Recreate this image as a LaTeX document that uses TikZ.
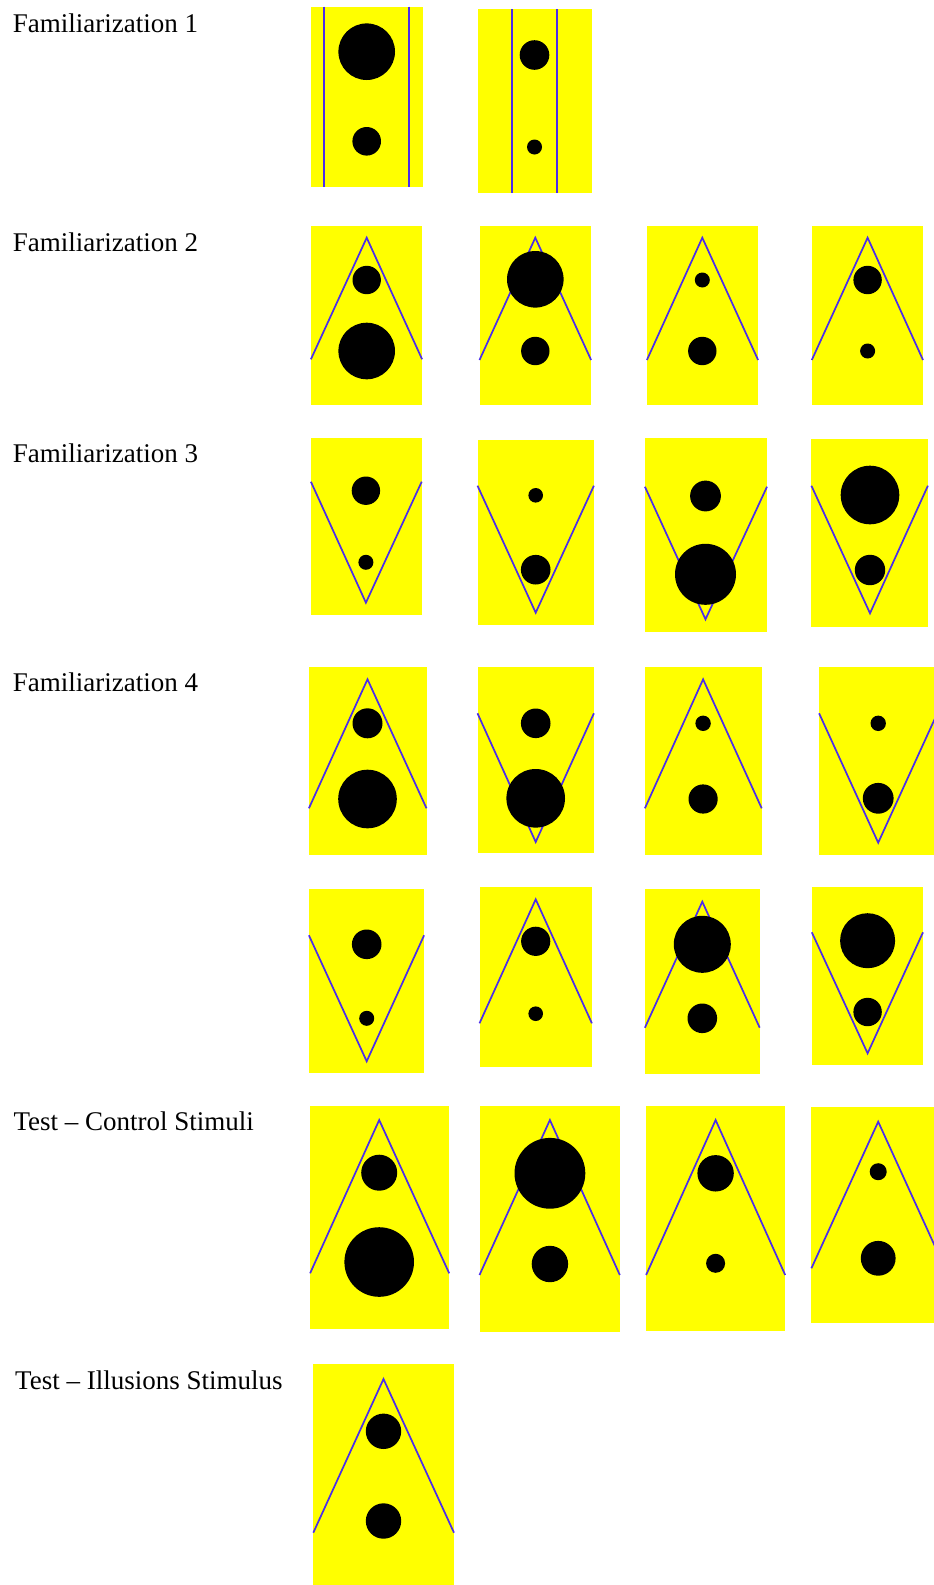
\documentclass[tikz,border=0pt]{standalone}
\usepackage{fontspec}
\setmainfont{Liberation Serif}
\definecolor{panelyellow}{RGB}{255,255,0}
\definecolor{edgeblue}{RGB}{75,45,235}
\begin{document}
\begin{tikzpicture}[x=1pt,y=-1pt,
  panel/.style={fill=panelyellow},
  edge/.style={draw=edgeblue,line width=1.7pt,line join=miter},
  disc/.style={fill=black},
  lbl/.style={anchor=base west,inner sep=0pt,font=\fontsize{27}{32}\selectfont}]
\useasboundingbox (0,0) rectangle (934,1585);
\clip (0,0) rectangle (934,1585);

% labels
\node[lbl] (l1) at (12.7,32.3) {Familiarization 1};
\node[lbl] (l2) at (12.7,251.7) {Familiarization 2};
\node[lbl] (l3) at (12.7,462.3) {Familiarization 3};
\node[lbl] (l4) at (12.7,691) {Familiarization 4};
\node[lbl] (l5) at (13.3,1130.7) {Test -- Control Stimuli};
\node[lbl] (l6) at (15,1389) {Test -- Illusions Stimulus};

% ---------- Familiarization 1 ----------
\fill[panel] (310.9,6.7) rectangle (422.5,186.7);
\draw[edge] (324.3,6.7) -- (324.3,186.7);
\draw[edge] (409.2,6.7) -- (409.2,186.7);
\fill[disc] (366.7,51.7) circle[radius=28.3pt];
\fill[disc] (366.7,141.3) circle[radius=14.3pt];

\fill[panel] (477.5,9) rectangle (591.9,193.3);
\draw[edge] (512.3,9) -- (512.3,193.3);
\draw[edge] (557.1,9) -- (557.1,193.3);
\fill[disc] (534.5,55) circle[radius=14.8pt];
\fill[disc] (534.5,147) circle[radius=7.5pt];

% ---------- Familiarization 2 ----------
\fill[panel] (310.9,226) rectangle (422.1,405);
\draw[edge] (310.9,359.3) -- (366.7,237.7) -- (422.1,359.3);
\fill[disc] (366.7,280) circle[radius=14.2pt];
\fill[disc] (366.7,351) circle[radius=28.3pt];

\fill[panel] (479.5,226) rectangle (591.1,405);
\draw[edge] (479.5,360) -- (535.3,237.7) -- (591.1,360);
\fill[disc] (535.3,279.3) circle[radius=28.3pt];
\fill[disc] (535.3,351) circle[radius=14.2pt];

\fill[panel] (646.9,226) rectangle (758.1,405);
\draw[edge] (646.9,360) -- (702.3,237.7) -- (758.1,360);
\fill[disc] (702.3,280) circle[radius=7.5pt];
\fill[disc] (702.3,351) circle[radius=14.2pt];

\fill[panel] (811.8,226) rectangle (923,405);
\draw[edge] (811.8,360) -- (867.6,237.7) -- (923,360);
\fill[disc] (867.6,280) circle[radius=14.2pt];
\fill[disc] (867.6,351) circle[radius=7.5pt];

% ---------- Familiarization 3 ----------
\fill[panel] (310.9,437.7) rectangle (421.7,615);
\draw[edge] (310.9,481.7) -- (365.9,602.7) -- (421.7,481.7);
\fill[disc] (365.9,490.7) circle[radius=14.2pt];
\fill[disc] (365.9,562.3) circle[radius=7.5pt];

\fill[panel] (477.5,440) rectangle (593.9,625);
\draw[edge] (477.5,485.7) -- (535.7,612.7) -- (593.9,485.7);
\fill[disc] (535.7,495.3) circle[radius=7.3pt];
\fill[disc] (535.7,569.7) circle[radius=14.8pt];

\fill[panel] (644.9,437.7) rectangle (767,632);
\draw[edge] (644.9,486.7) -- (705.5,619.3) -- (767,486.7);
\fill[disc] (705.5,496) circle[radius=15.4pt];
\fill[disc] (705.5,574.3) circle[radius=30.5pt];

\fill[panel] (811.4,439) rectangle (927.9,627);
\draw[edge] (811.4,485.7) -- (870,613.3) -- (927.9,485.7);
\fill[disc] (870,495) circle[radius=29.3pt];
\fill[disc] (870,570) circle[radius=15.2pt];

% ---------- Familiarization 4, row 1 ----------
\fill[panel] (308.9,667) rectangle (426.5,855.3);
\draw[edge] (308.9,808.3) -- (367.5,679.3) -- (426.5,808.3);
\fill[disc] (367.5,723.3) circle[radius=15pt];
\fill[disc] (367.5,799) circle[radius=29.3pt];

\fill[panel] (477.5,667) rectangle (593.9,853.3);
\draw[edge] (477.5,713.3) -- (535.7,842) -- (593.9,713.3);
\fill[disc] (535.7,723.3) circle[radius=14.8pt];
\fill[disc] (535.7,798.3) circle[radius=29.3pt];

\fill[panel] (644.9,667) rectangle (761.7,855.3);
\draw[edge] (644.9,808.3) -- (703.1,679.3) -- (761.7,808.3);
\fill[disc] (703.1,723.3) circle[radius=7.7pt];
\fill[disc] (703.1,799) circle[radius=14.6pt];

\fill[panel] (819.1,667) rectangle (937.3,854.7);
\draw[edge] (819.1,713.3) -- (878.2,842.7) -- (937.3,713.3);
\fill[disc] (878.2,723.3) circle[radius=7.7pt];
\fill[disc] (878.2,798.3) circle[radius=15.4pt];

% ---------- Familiarization 4, row 2 ----------
\fill[panel] (308.9,889.3) rectangle (424.1,1072.7);
\draw[edge] (308.9,935.3) -- (366.7,1061.3) -- (424.1,935.3);
\fill[disc] (366.7,944.3) circle[radius=14.8pt];
\fill[disc] (366.7,1018.3) circle[radius=7.5pt];

\fill[panel] (479.5,887.3) rectangle (591.9,1067);
\draw[edge] (479.5,1023.3) -- (535.7,899.3) -- (591.9,1023.3);
\fill[disc] (535.7,941.3) circle[radius=14.6pt];
\fill[disc] (535.7,1013.7) circle[radius=7.3pt];

\fill[panel] (644.9,889.3) rectangle (759.7,1073.7);
\draw[edge] (644.9,1027.7) -- (702.3,901.7) -- (759.7,1027.7);
\fill[disc] (702.3,944.3) circle[radius=28.5pt];
\fill[disc] (702.3,1018.3) circle[radius=14.8pt];

\fill[panel] (811.8,887.3) rectangle (923,1065);
\draw[edge] (811.8,932.3) -- (867.6,1053.3) -- (923,932.3);
\fill[disc] (867.6,940.7) circle[radius=27.5pt];
\fill[disc] (867.6,1012) circle[radius=14.2pt];

% ---------- Test - Control Stimuli ----------
\fill[panel] (310.1,1106) rectangle (449.2,1329);
\draw[edge] (310.1,1273.3) -- (379.2,1120) -- (449.2,1273.3);
\fill[disc] (379.2,1172.7) circle[radius=18pt];
\fill[disc] (379.2,1262) circle[radius=34.8pt];

\fill[panel] (479.5,1106) rectangle (619.8,1331.7);
\draw[edge] (479.5,1275) -- (549.9,1120) -- (619.8,1275);
\fill[disc] (549.9,1173.3) circle[radius=35.4pt];
\fill[disc] (549.9,1264) circle[radius=18.2pt];

\fill[panel] (646.1,1106) rectangle (785.2,1331);
\draw[edge] (646.1,1275) -- (715.6,1120) -- (785.2,1275);
\fill[disc] (715.6,1173.3) circle[radius=18.2pt];
\fill[disc] (715.6,1263.3) circle[radius=9.5pt];

\fill[panel] (811.4,1107) rectangle (945,1323);
\draw[edge] (811.4,1268.3) -- (878.2,1121.7) -- (945,1268.3);
\fill[disc] (878.2,1171.7) circle[radius=8.5pt];
\fill[disc] (878.2,1258.3) circle[radius=17.4pt];

% ---------- Test - Illusions Stimulus ----------
\fill[panel] (313.3,1364) rectangle (454,1590);
\draw[edge] (313.3,1532.7) -- (383.5,1379) -- (454,1532.7);
\fill[disc] (383.5,1431.3) circle[radius=17.7pt];
\fill[disc] (383.5,1521) circle[radius=17.7pt];
\end{tikzpicture}
\end{document}
